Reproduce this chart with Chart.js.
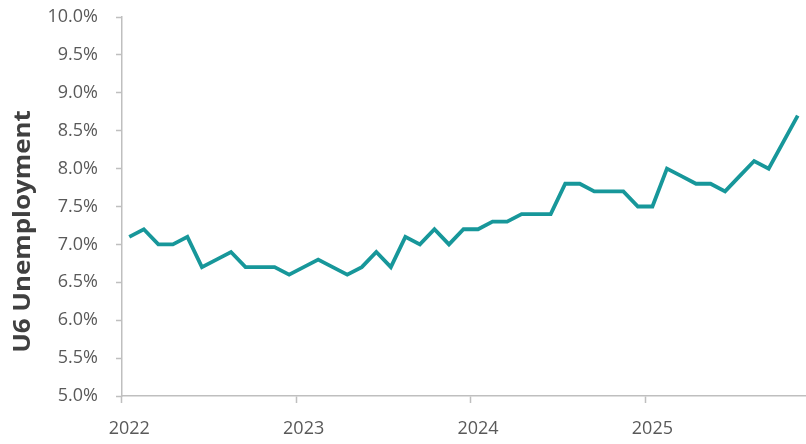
<!DOCTYPE html>
<html>
<head>
<meta charset="utf-8">
<script src="https://cdn.jsdelivr.net/npm/chart.js@4/dist/chart.umd.min.js"></script>
<style>
  html, body { margin: 0; padding: 0; background: #ffffff; }
  #wrap { width: 806px; height: 444px; }
</style>
</head>
<body>
<div id="wrap"><canvas id="c" width="806" height="444"></canvas></div>
<script>
// Monthly categories (Jan 2022 – Nov 2025)
const years = ['2022', '2023', '2024', '2025'];
const months = ['Jan','Feb','Mar','Apr','May','Jun','Jul','Aug','Sep','Oct','Nov','Dec'];
const categories = [];
years.forEach(y => months.forEach(m => categories.push(m + ' ' + y)));
categories.length = 47; // through Nov 2025

// U6 unemployment rate (%); Oct 2025 not reported
const u6_2022 = [7.1, 7.2, 7.0, 7.0, 7.1, 6.7, 6.8, 6.9, 6.7, 6.7, 6.7, 6.6];
const u6_2023 = [6.7, 6.8, 6.7, 6.6, 6.7, 6.9, 6.7, 7.1, 7.0, 7.2, 7.0, 7.2];
const u6_2024 = [7.2, 7.3, 7.3, 7.4, 7.4, 7.4, 7.8, 7.8, 7.7, 7.7, 7.7, 7.5];
const u6_2025 = [7.5, 8.0, 7.9, 7.8, 7.8, 7.7, 7.9, 8.1, 8.0, null, 8.7];
const u6 = [].concat(u6_2022, u6_2023, u6_2024, u6_2025);

const yTitle = 'U6 Unemployment';
const yMin = 5, yMax = 10, yStep = 0.5;

const axisColor = '#bfbfbf';
const textColor = '#595959';
const fontFamily = "'Open Sans', 'Noto Sans', 'DejaVu Sans', sans-serif";

// Axis title drawn rotated beside the y axis (placed slightly below the plot centre, as in the original)
const yTitlePlugin = {
  id: 'yTitle',
  afterDraw(chart) {
    const ctx = chart.ctx;
    const area = chart.chartArea;
    ctx.save();
    ctx.translate(23, (area.top + area.bottom) / 2 + 25);
    ctx.rotate(-Math.PI / 2);
    ctx.scale(1.08, 1);
    ctx.font = "bold 24px " + fontFamily;
    ctx.fillStyle = '#404040';
    ctx.textAlign = 'center';
    ctx.textBaseline = 'middle';
    ctx.fillText(yTitle, 0, 0);
    ctx.restore();
  }
};

new Chart(document.getElementById('c'), {
  type: 'line',
  data: {
    labels: categories,
    datasets: [{
      data: u6,
      borderColor: '#17979a',
      borderWidth: 3.8,
      pointRadius: 0,
      pointHoverRadius: 0,
      tension: 0,
      spanGaps: true,
      fill: false,
      borderJoinStyle: 'miter'
    }]
  },
  plugins: [yTitlePlugin],
  options: {
    responsive: false,
    animation: false,
    devicePixelRatio: 1,
    layout: { padding: { top: 17, right: 1, left: 0, bottom: 0 } },
    plugins: { legend: { display: false }, tooltip: { enabled: false } },
    scales: {
      x: {
        type: 'category',
        offset: true,
        afterFit: s => { s.height = 48; s.paddingLeft = 0; s.paddingRight = 0; },
        border: { display: true, color: axisColor, width: 1.5 },
        grid: {
          offset: true,
          drawOnChartArea: false,
          drawTicks: true,
          tickLength: 7,
          tickWidth: 1.5,
          tickColor: ctx => (ctx.index % 12 === 0 ? axisColor : 'rgba(0,0,0,0)')
        },
        ticks: {
          autoSkip: false,
          maxRotation: 0,
          minRotation: 0,
          padding: 15,
          color: textColor,
          font: { family: fontFamily, size: 18 },
          callback: function (v, i) {
            return i % 12 === 0 ? this.getLabelForValue(v).split(' ')[1] : '';
          }
        }
      },
      y: {
        min: yMin,
        max: yMax,
        afterFit: s => { s.width = 122; s.paddingTop = 0; s.paddingBottom = 0; },
        border: { display: true, color: axisColor, width: 1.5 },
        grid: {
          drawOnChartArea: false,
          drawTicks: true,
          tickLength: 6,
          tickWidth: 1.5,
          tickColor: axisColor
        },
        ticks: {
          stepSize: yStep,
          padding: 18,
          color: textColor,
          font: { family: fontFamily, size: 18 },
          callback: v => v.toFixed(1) + '%'
        },
        title: { display: false }
      }
    }
  }
});
</script>
</body>
</html>
